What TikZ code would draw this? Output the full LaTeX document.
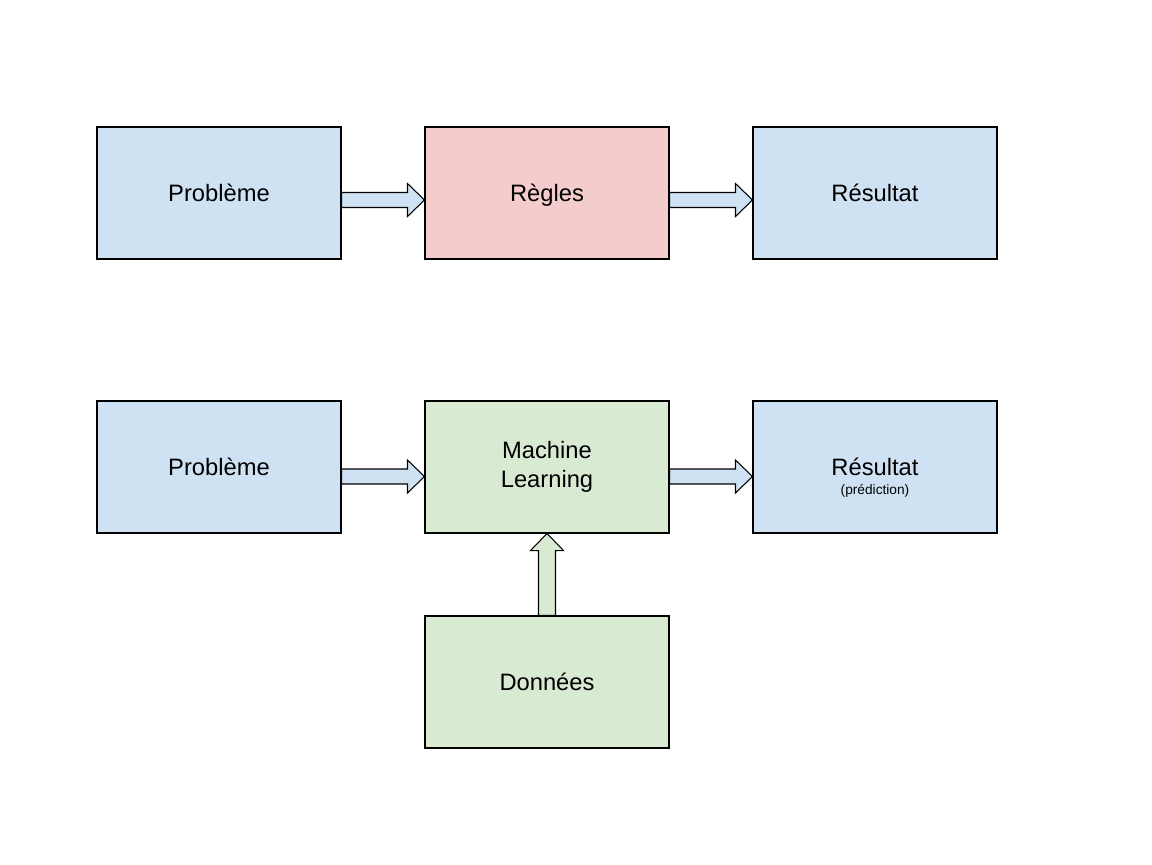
\documentclass[tikz,border=0pt]{standalone}
\usepackage{fontspec}
\setmainfont{Liberation Sans}
\usetikzlibrary{calc}
\definecolor{boxblue}{HTML}{CFE2F3}
\definecolor{boxred}{HTML}{F4CCCC}
\definecolor{boxgreen}{HTML}{D9EAD3}

\begin{document}
\begin{tikzpicture}
    \tikzstyle{stage} = [rectangle, draw, line width=0.6pt, inner sep=0pt, minimum width=4.88cm, minimum height=2.64cm, align=center, font=\fontsize{13.5}{16.6}\selectfont]
    \tikzstyle{harrow} = [draw, line width=0.6pt, line join=miter, to path={let \p1=(\tikztostart), \p2=(\tikztotarget) in
        (\x1,{\y1+0.15cm}) -- ({\x2-0.34cm},{\y1+0.15cm}) -- ({\x2-0.34cm},{\y1+0.33cm}) -- (\x2,\y1)
        -- ({\x2-0.34cm},{\y1-0.33cm}) -- ({\x2-0.34cm},{\y1-0.15cm}) -- (\x1,{\y1-0.15cm}) -- cycle}]
    \tikzstyle{varrow} = [draw, line width=0.6pt, line join=miter, to path={let \p1=(\tikztostart), \p2=(\tikztotarget) in
        ({\x1-0.17cm},\y1) -- ({\x1-0.17cm},{\y2-0.34cm}) -- ({\x1-0.33cm},{\y2-0.34cm}) -- (\x1,\y2)
        -- ({\x1+0.33cm},{\y2-0.34cm}) -- ({\x1+0.17cm},{\y2-0.34cm}) -- ({\x1+0.17cm},\y1) -- cycle}]

    \useasboundingbox (0,0) rectangle (23.04,-17.28);

    % Rules based approach
    \node[stage, fill=boxblue] (prob1) at (4.38,-3.86) {Problème};
    \node[stage, fill=boxred, text depth=0pt] (rules) at (10.94,-3.86) {Règles};
    \node[stage, fill=boxblue] (res1) at (17.5,-3.86) {Résultat};

    \draw[harrow, fill=boxblue] ([yshift=-0.14cm]prob1.east) to ([yshift=-0.14cm]rules.west);
    \draw[harrow, fill=boxblue] ([yshift=-0.14cm]rules.east) to ([yshift=-0.14cm]res1.west);

    % Machine learning approach
    \node[stage, fill=boxblue] (prob2) at (4.38,-9.34) {Problème};
    \node[stage, fill=boxgreen] (ml) at (10.94,-9.34) {Machine\\Learning};
    \node[stage, fill=boxblue, label={[font=\fontsize{7.8}{9}\selectfont, yshift=-0.48cm]center:(prédiction)}] (res2) at (17.5,-9.34) {Résultat};
    \node[stage, fill=boxgreen] (data) at (10.94,-13.64) {Données};

    \draw[harrow, fill=boxblue] ([yshift=-0.19cm]prob2.east) to ([yshift=-0.19cm]ml.west);
    \draw[harrow, fill=boxblue] ([yshift=-0.19cm]ml.east) to ([yshift=-0.19cm]res2.west);
    \draw[varrow, fill=boxgreen] (data.north) to (ml.south);
\end{tikzpicture}
\end{document}
